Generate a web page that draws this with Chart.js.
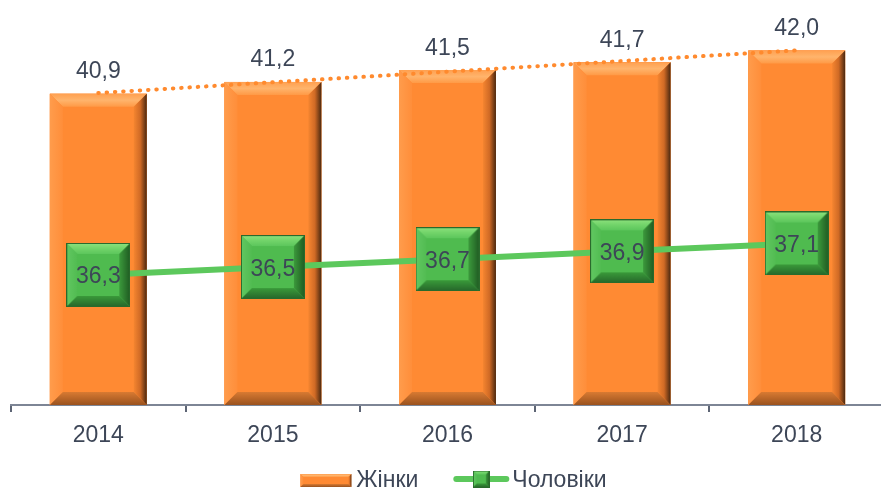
<!DOCTYPE html>
<html>
<head>
<meta charset="utf-8">
<script src="https://cdn.jsdelivr.net/npm/chart.js@4"></script>
<style>
  html, body { margin: 0; padding: 0; overflow: hidden; background: #fff; }
  #wrap { width: 895px; height: 488px; }
</style>
</head>
<body>
<div id="wrap"><canvas id="chart"></canvas></div>
<script>
const years = ['2014', '2015', '2016', '2017', '2018'];
const women = [40.9, 41.2, 41.5, 41.7, 42.0];
const men = [36.3, 36.5, 36.7, 36.9, 37.1];
// лінія тренду для жінок, з картинки: початок і кінець
const womenTrend = [40.92, null, null, null, 42.0];
const seriesNames = ['Жінки', 'Чоловіки'];

const FONT = '"Liberation Sans", Arial, sans-serif';
const TEXT = '#3d4657';

const barColors = {
  face: '#ff8a33',
  top: ['#ffa050', '#ffb46c', '#ff9a46'],
  left: ['#ff9c4c', '#ff8e3a'],
  right: ['#f58530', '#d06a25', '#4a2810'],
  bottom: ['#d87a32', '#9a521e']
};
const markerColors = {
  face: '#4fbb4f',
  top: ['#8ee27e', '#72d46a', '#5cc65c'],
  left: ['#62c862', '#52bc52'],
  right: ['#3c9a3c', '#1f5a22'],
  bottom: ['#3a9a3a', '#25652a']
};

function grad(ctx, x0, y0, x1, y1, stops) {
  const g = ctx.createLinearGradient(x0, y0, x1, y1);
  stops.forEach((c, i) => g.addColorStop(i / (stops.length - 1), c));
  return g;
}

function poly(ctx, pts, fill) {
  ctx.beginPath();
  ctx.moveTo(pts[0][0], pts[0][1]);
  for (let i = 1; i < pts.length; i++) ctx.lineTo(pts[i][0], pts[i][1]);
  ctx.closePath();
  ctx.fillStyle = fill;
  ctx.fill();
}

// прямокутник з фаскою
function bevel(ctx, x0, y0, x1, y1, d, c) {
  ctx.fillStyle = c.face;
  ctx.fillRect(x0, y0, x1 - x0, y1 - y0);
  poly(ctx, [[x0, y0], [x1, y0], [x1 - d, y0 + d], [x0 + d, y0 + d]], grad(ctx, 0, y0, 0, y0 + d, c.top));
  poly(ctx, [[x0, y0], [x0 + d, y0 + d], [x0 + d, y1 - d], [x0, y1]], grad(ctx, x0, 0, x0 + d, 0, c.left));
  poly(ctx, [[x1, y0], [x1, y1], [x1 - d, y1 - d], [x1 - d, y0 + d]], grad(ctx, x1 - d, 0, x1, 0, c.right));
  poly(ctx, [[x0, y1], [x1, y1], [x1 - d, y1 - d], [x0 + d, y1 - d]], grad(ctx, 0, y1 - d, 0, y1, c.bottom));
}

function makeMarker(size, d) {
  const cv = document.createElement('canvas');
  cv.width = size;
  cv.height = size;
  const ctx = cv.getContext('2d');
  bevel(ctx, 0, 0, size, size, d, markerColors);
  ctx.strokeStyle = '#2a6a2c';
  ctx.lineWidth = 1;
  ctx.strokeRect(0.5, 0.5, size - 1, size - 1);
  return cv;
}

const bigMarker = makeMarker(64, 11);
const smallMarker = makeMarker(17, 4);

const fmt = v => v.toFixed(1).replace('.', ',');

const barBevel = {
  id: 'barBevel',
  afterDatasetDraw(chart, args) {
    if (args.index !== 0) return;
    const ctx = chart.ctx;
    const bottom = chart.chartArea.bottom;
    ctx.save();
    args.meta.data.forEach(el => {
      const p = el.getProps(['x', 'y', 'base', 'width'], true);
      bevel(ctx, p.x - p.width / 2, p.y, p.x + p.width / 2, Math.min(p.base, bottom), 13, barColors);
    });
    ctx.restore();
  }
};

const valueLabels = {
  id: 'valueLabels',
  afterDatasetsDraw(chart) {
    const ctx = chart.ctx;
    ctx.save();
    ctx.font = '23px ' + FONT;
    ctx.fillStyle = TEXT;
    ctx.textAlign = 'center';
    ctx.textBaseline = 'alphabetic';
    chart.getDatasetMeta(0).data.forEach((el, i) => {
      ctx.fillText(fmt(women[i]), el.x, el.y - 15.5);
    });
    chart.getDatasetMeta(2).data.forEach((el, i) => {
      ctx.fillText(fmt(men[i]), el.x, el.y + 8.5);
    });
    ctx.restore();
  }
};

const bottomLegend = {
  id: 'bottomLegend',
  afterDraw(chart) {
    const ctx = chart.ctx;
    ctx.save();
    ctx.font = '23px ' + FONT;
    ctx.fillStyle = TEXT;
    ctx.textBaseline = 'alphabetic';
    const w1 = ctx.measureText(seriesNames[0]).width;
    const w2 = ctx.measureText(seriesNames[1]).width;
    const sw1 = 51, sw2 = 56;
    const total = sw1 + 5 + w1 + 35 + sw2 + 3 + w2;
    let x = (chart.chartArea.left + chart.chartArea.right) / 2 + 6 - total / 2;
    const base = 487;
    bevel(ctx, x, 474, x + sw1, 487, 3, barColors);
    ctx.fillStyle = TEXT;
    ctx.fillText(seriesNames[0], x + sw1 + 5, base);
    x += sw1 + 5 + w1 + 35;
    ctx.strokeStyle = '#5cc85c';
    ctx.lineWidth = 6;
    ctx.lineCap = 'round';
    ctx.beginPath();
    ctx.moveTo(x + 3, 479);
    ctx.lineTo(x + sw2 - 3, 479);
    ctx.stroke();
    ctx.drawImage(smallMarker, x + sw2 / 2 - 8.5, 479 - 8.5);
    ctx.fillStyle = TEXT;
    ctx.fillText(seriesNames[1], x + sw2 + 3, base);
    ctx.restore();
  }
};

new Chart(document.getElementById('chart'), {
  data: {
    labels: years,
    datasets: [
      {
        type: 'bar',
        label: seriesNames[0],
        data: women,
        backgroundColor: barColors.face,
        borderWidth: 0,
        barPercentage: 0.555,
        categoryPercentage: 1,
        order: 3
      },
      {
        type: 'line',
        label: 'trend',
        data: womenTrend,
        spanGaps: true,
        borderColor: '#ff8a2e',
        borderWidth: 4,
        borderDash: [0.5, 7.8],
        borderCapStyle: 'round',
        pointRadius: 0,
        fill: false,
        order: 2
      },
      {
        type: 'line',
        label: seriesNames[1],
        data: men,
        borderColor: '#5cc85c',
        borderWidth: 6,
        pointStyle: bigMarker,
        pointRadius: 5,
        fill: false,
        order: 1
      }
    ]
  },
  options: {
    responsive: true,
    maintainAspectRatio: false,
    animation: false,
    layout: { padding: { top: 8, left: 10, right: 3, bottom: 0 } },
    plugins: {
      legend: { display: false },
      tooltip: { enabled: false }
    },
    scales: {
      x: {
        offset: true,
        grid: {
          offset: true,
          drawOnChartArea: false,
          tickLength: 7,
          color: '#5d6575',
          lineWidth: 2
        },
        border: { color: '#7d8595', width: 2 },
        ticks: {
          color: TEXT,
          font: { family: FONT, size: 23 },
          padding: 10,
          maxRotation: 0,
          autoSkip: false
        },
        afterFit: s => { s.height = 83; }
      },
      y: {
        display: false,
        min: 33,
        max: 43
      }
    }
  },
  plugins: [barBevel, valueLabels, bottomLegend]
});
</script>
</body>
</html>
